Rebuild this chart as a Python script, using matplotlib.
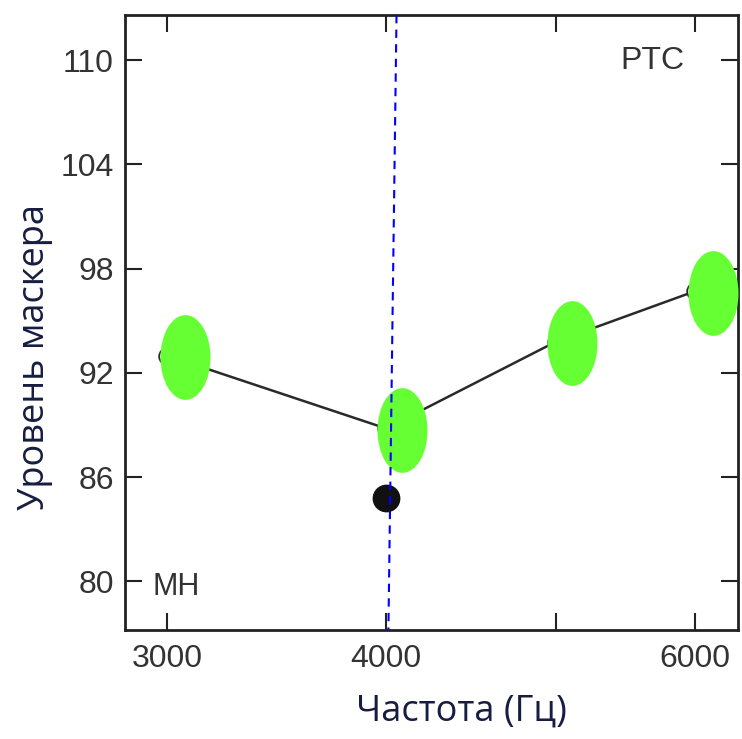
import numpy as np
import matplotlib
matplotlib.use("Agg")
import matplotlib.pyplot as plt
from matplotlib.path import Path
from matplotlib.transforms import Affine2D

# Data
freq = [3000, 4000, 5000, 6000]
level = [93.0, 88.8, 93.8, 96.7]

# Green highlight ellipses (slightly right of the original points)
green_freq = [3072, 4085, 5106, 6144]
green_level = [92.9, 88.7, 93.7, 96.6]

# Filled black point
dot_freq = [4000]
dot_level = [84.8]

# Dashed reference line (slightly tilted in the scan)
ref_freq = [4055, 4012]

xticks = [3000, 4000, 5000, 6000]
xticklabels = ["3000", "4000", "", "6000"]
yticks = [80, 86, 92, 98, 104, 110]

fig = plt.figure(figsize=(7.42, 7.39), dpi=100)
ax = fig.add_axes([125 / 742, 1 - 630 / 739, 613 / 742, 615 / 739])
ax.set_xscale("log")
ax.set_xlim(2839, 6349)
ax.set_ylim(77.2, 112.6)

# original line with open circles
ax.plot(freq, level, color="#2a2a2a", lw=1.8, marker="o", ms=12,
        mfc="white", mec="#2a2a2a", mew=1.3, zorder=2)

# ellipse marker
ell = Path.unit_circle().transformed(Affine2D().scale(0.59, 1.0))
ax.plot(green_freq, green_level, ls="none", marker=ell, ms=61,
        mfc="#66ff33", mec="none", zorder=3)

ax.plot(dot_freq, dot_level, ls="none", marker="o", ms=19,
        mfc="#111111", mec="#111111", zorder=4)

ax.plot(ref_freq, [112.6, 77.2], color="#0000ff", lw=1.5,
        ls=(0, (4, 3)), zorder=5)

ax.set_xticks(xticks)
ax.set_xticklabels(xticklabels)
ax.xaxis.set_minor_locator(matplotlib.ticker.NullLocator())
ax.set_yticks(yticks)
ax.tick_params(direction="in", length=12, width=1.5, color="#222222",
               top=True, right=True, labelsize=23, labelcolor="#333333")
ax.tick_params(axis="x", pad=10)
ax.tick_params(axis="y", pad=8)
for lab in ax.get_xticklabels() + ax.get_yticklabels():
    lab.set_fontfamily("Liberation Sans")

for sp in ax.spines.values():
    sp.set_linewidth(2)
    sp.set_color("#222222")

ax.text(0.808, 0.925, "PTC", transform=ax.transAxes, fontsize=23,
        color="#333333", family="Liberation Sans", ha="left", va="center")
ax.text(0.045, 0.07, "MH", transform=ax.transAxes, fontsize=22,
        color="#333333", family="Liberation Sans", ha="left", va="center")

fig.text(35 / 742, 1 - 357 / 739, "Уровень маскера", rotation=90,
         ha="center", va="center", fontsize=26, color="#161d40",
         family="Open Sans")
fig.text(461 / 742, 1 - 712 / 739, "Частота (Гц)", ha="center",
         va="center", fontsize=26, color="#161d40", family="Open Sans")

fig.savefig("out.png", dpi=100)
